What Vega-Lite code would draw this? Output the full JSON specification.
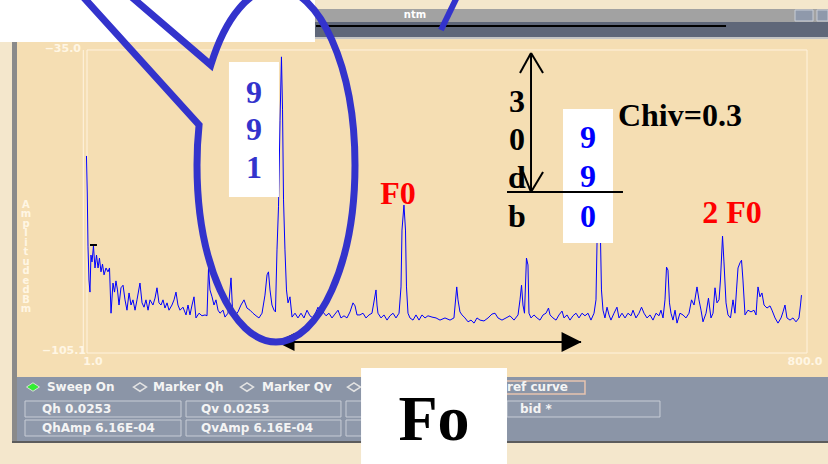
{
  "$schema": "https://vega.github.io/schema/vega-lite/v6.json",
  "width": 828,
  "height": 464,
  "padding": 0,
  "autosize": {"type": "none"},
  "background": "#f4e7cc",
  "config": {"view": {"stroke": null}},
  "resolve": {"scale": {"color": "independent"}},
  "datasets": {
    "spec": [
      {"f":1.5,"a":-59.6},{"f":2.4,"a":-68.2},{"f":3.2,"a":-80.7},{"f":4.3,"a":-88.4},{"f":5.4,"a":-91.2},{"f":6.5,"a":-82.6},{"f":7.7,"a":-84.2},{"f":9.3,"a":-80.5},{"f":11.0,"a":-85.6},{"f":12.7,"a":-82.6},{"f":14.4,"a":-85.6},{"f":16.0,"a":-83.3},{"f":17.7,"a":-86.5},{"f":19.4,"a":-84.7},{"f":21.1,"a":-87.2},{"f":23.3,"a":-85.6},{"f":25.5,"a":-86.5},{"f":27.2,"a":-85.6},{"f":28.9,"a":-96.1},{"f":31.1,"a":-89.1},{"f":32.8,"a":-91.2},{"f":34.4,"a":-88.6},{"f":36.1,"a":-90.7},{"f":37.8,"a":-94.2},{"f":40.0,"a":-90.2},{"f":42.3,"a":-89.6},{"f":44.5,"a":-93.0},{"f":46.7,"a":-95.4},{"f":49.0,"a":-91.4},{"f":51.2,"a":-94.2},{"f":53.4,"a":-93.0},{"f":55.7,"a":-95.4},{"f":57.9,"a":-93.0},{"f":61.2,"a":-89.1},{"f":63.5,"a":-93.7},{"f":65.7,"a":-94.7},{"f":67.9,"a":-93.0},{"f":70.2,"a":-95.4},{"f":72.4,"a":-93.0},{"f":75.7,"a":-94.2},{"f":78.0,"a":-92.6},{"f":80.2,"a":-90.2},{"f":82.4,"a":-93.7},{"f":84.7,"a":-94.2},{"f":86.9,"a":-93.0},{"f":89.1,"a":-94.9},{"f":91.4,"a":-93.7},{"f":93.6,"a":-95.4},{"f":96.9,"a":-94.2},{"f":99.2,"a":-93.0},{"f":101.4,"a":-91.2},{"f":103.6,"a":-94.2},{"f":105.9,"a":-95.4},{"f":109.2,"a":-94.7},{"f":112.6,"a":-96.5},{"f":114.8,"a":-94.2},{"f":117.0,"a":-96.5},{"f":119.3,"a":-94.2},{"f":121.5,"a":-92.3},{"f":123.7,"a":-97.2},{"f":127.1,"a":-96.1},{"f":130.4,"a":-96.7},{"f":133.8,"a":-96.5},{"f":136.0,"a":-96.7},{"f":137.7,"a":-85.6},{"f":139.3,"a":-90.7},{"f":141.6,"a":-92.3},{"f":143.8,"a":-94.2},{"f":146.0,"a":-93.0},{"f":148.3,"a":-95.4},{"f":150.5,"a":-96.1},{"f":153.9,"a":-95.4},{"f":156.1,"a":-97.0},{"f":159.4,"a":-96.1},{"f":162.8,"a":-87.9},{"f":164.5,"a":-95.4},{"f":167.2,"a":-96.7},{"f":170.6,"a":-95.8},{"f":173.9,"a":-94.2},{"f":177.3,"a":-93.0},{"f":180.6,"a":-94.9},{"f":184.0,"a":-95.4},{"f":187.3,"a":-96.1},{"f":190.7,"a":-96.7},{"f":194.0,"a":-97.2},{"f":197.4,"a":-96.1},{"f":200.7,"a":-91.9},{"f":203.0,"a":-87.2},{"f":204.6,"a":-86.5},{"f":206.3,"a":-90.7},{"f":208.5,"a":-94.2},{"f":210.8,"a":-95.4},{"f":212.4,"a":-95.8},{"f":214.1,"a":-81.4},{"f":215.8,"a":-71.4},{"f":217.5,"a":-51.3},{"f":219.1,"a":-36.6},{"f":220.3,"a":-48.9},{"f":221.4,"a":-69.8},{"f":223.0,"a":-81.4},{"f":224.7,"a":-90.7},{"f":226.4,"a":-93.7},{"f":228.6,"a":-92.3},{"f":230.9,"a":-97.0},{"f":234.2,"a":-96.1},{"f":237.5,"a":-97.2},{"f":240.9,"a":-96.1},{"f":244.2,"a":-97.2},{"f":247.6,"a":-95.4},{"f":250.9,"a":-96.7},{"f":254.3,"a":-97.2},{"f":257.6,"a":-95.8},{"f":259.9,"a":-94.7},{"f":262.1,"a":-96.5},{"f":265.4,"a":-95.8},{"f":268.8,"a":-96.7},{"f":272.1,"a":-96.1},{"f":275.5,"a":-97.2},{"f":278.8,"a":-96.3},{"f":282.2,"a":-95.4},{"f":285.5,"a":-97.2},{"f":288.9,"a":-96.7},{"f":292.2,"a":-97.2},{"f":295.6,"a":-95.8},{"f":298.9,"a":-93.7},{"f":301.2,"a":-94.4},{"f":303.4,"a":-96.5},{"f":306.7,"a":-96.5},{"f":310.1,"a":-96.1},{"f":313.4,"a":-97.2},{"f":316.8,"a":-96.5},{"f":320.1,"a":-96.1},{"f":324.6,"a":-90.7},{"f":325.7,"a":-94.2},{"f":326.8,"a":-96.1},{"f":330.2,"a":-97.2},{"f":333.5,"a":-96.5},{"f":336.9,"a":-97.7},{"f":340.2,"a":-96.7},{"f":343.6,"a":-96.1},{"f":346.9,"a":-97.2},{"f":350.3,"a":-96.1},{"f":352.5,"a":-90.0},{"f":353.6,"a":-76.8},{"f":355.8,"a":-71.0},{"f":357.5,"a":-76.8},{"f":358.6,"a":-90.0},{"f":360.3,"a":-96.1},{"f":362.5,"a":-97.2},{"f":365.9,"a":-97.7},{"f":369.2,"a":-96.5},{"f":372.6,"a":-97.7},{"f":375.9,"a":-96.5},{"f":379.3,"a":-97.2},{"f":382.6,"a":-96.7},{"f":387.1,"a":-97.0},{"f":391.6,"a":-97.2},{"f":396.0,"a":-97.7},{"f":401.6,"a":-97.2},{"f":407.2,"a":-97.7},{"f":411.6,"a":-97.2},{"f":414.7,"a":-90.0},{"f":416.1,"a":-93.0},{"f":418.3,"a":-95.8},{"f":420.6,"a":-96.5},{"f":423.9,"a":-97.2},{"f":427.3,"a":-98.1},{"f":430.6,"a":-97.7},{"f":434.0,"a":-98.4},{"f":437.3,"a":-97.2},{"f":440.7,"a":-97.7},{"f":445.1,"a":-97.9},{"f":449.6,"a":-97.2},{"f":454.0,"a":-96.3},{"f":457.4,"a":-96.1},{"f":460.7,"a":-97.2},{"f":465.2,"a":-97.7},{"f":469.7,"a":-97.2},{"f":474.1,"a":-96.7},{"f":478.6,"a":-97.7},{"f":483.1,"a":-96.5},{"f":485.3,"a":-93.0},{"f":487.0,"a":-89.6},{"f":488.6,"a":-94.2},{"f":490.3,"a":-96.1},{"f":492.5,"a":-83.3},{"f":494.2,"a":-84.9},{"f":495.3,"a":-96.1},{"f":497.6,"a":-97.2},{"f":500.9,"a":-96.5},{"f":504.3,"a":-97.2},{"f":507.6,"a":-97.7},{"f":511.0,"a":-96.5},{"f":514.3,"a":-96.1},{"f":517.1,"a":-94.9},{"f":518.8,"a":-96.5},{"f":522.1,"a":-97.2},{"f":525.5,"a":-97.7},{"f":528.8,"a":-96.5},{"f":532.2,"a":-95.6},{"f":534.4,"a":-97.2},{"f":537.7,"a":-96.5},{"f":541.1,"a":-97.7},{"f":544.4,"a":-96.7},{"f":547.8,"a":-96.1},{"f":551.1,"a":-97.2},{"f":554.5,"a":-96.1},{"f":557.8,"a":-96.7},{"f":561.2,"a":-96.1},{"f":564.5,"a":-97.7},{"f":567.9,"a":-96.1},{"f":570.1,"a":-93.0},{"f":571.8,"a":-73.3},{"f":574.6,"a":-73.3},{"f":576.2,"a":-90.7},{"f":577.9,"a":-95.4},{"f":580.1,"a":-97.2},{"f":582.4,"a":-94.7},{"f":584.6,"a":-96.5},{"f":586.8,"a":-97.7},{"f":590.2,"a":-96.1},{"f":593.5,"a":-94.7},{"f":595.8,"a":-97.2},{"f":599.1,"a":-96.1},{"f":602.5,"a":-97.2},{"f":605.8,"a":-96.1},{"f":609.2,"a":-96.7},{"f":611.4,"a":-95.4},{"f":614.7,"a":-97.2},{"f":618.1,"a":-96.1},{"f":620.9,"a":-94.7},{"f":623.7,"a":-96.1},{"f":627.0,"a":-97.2},{"f":630.4,"a":-96.5},{"f":633.7,"a":-97.7},{"f":637.1,"a":-96.1},{"f":640.4,"a":-96.7},{"f":642.6,"a":-95.4},{"f":644.9,"a":-97.2},{"f":647.1,"a":-93.0},{"f":648.8,"a":-85.4},{"f":650.4,"a":-86.1},{"f":652.1,"a":-93.7},{"f":653.8,"a":-96.1},{"f":656.0,"a":-97.7},{"f":658.3,"a":-95.4},{"f":660.5,"a":-98.4},{"f":663.8,"a":-96.1},{"f":667.2,"a":-96.5},{"f":670.5,"a":-97.2},{"f":673.9,"a":-96.1},{"f":676.7,"a":-93.0},{"f":679.5,"a":-94.2},{"f":682.8,"a":-90.0},{"f":685.0,"a":-93.0},{"f":687.3,"a":-95.4},{"f":689.5,"a":-98.1},{"f":692.9,"a":-96.1},{"f":695.6,"a":-92.6},{"f":698.4,"a":-97.2},{"f":700.7,"a":-96.1},{"f":702.9,"a":-90.2},{"f":705.1,"a":-93.7},{"f":707.4,"a":-93.0},{"f":709.0,"a":-88.4},{"f":711.3,"a":-78.2},{"f":712.9,"a":-84.2},{"f":715.2,"a":-93.7},{"f":717.4,"a":-96.5},{"f":720.2,"a":-97.2},{"f":723.0,"a":-93.0},{"f":725.2,"a":-96.1},{"f":726.9,"a":-90.7},{"f":728.6,"a":-85.6},{"f":730.8,"a":-84.4},{"f":732.5,"a":-83.8},{"f":734.1,"a":-88.4},{"f":736.4,"a":-96.5},{"f":739.7,"a":-95.4},{"f":743.1,"a":-95.8},{"f":746.4,"a":-95.4},{"f":748.7,"a":-96.5},{"f":749.8,"a":-93.0},{"f":750.9,"a":-90.0},{"f":753.1,"a":-92.3},{"f":755.3,"a":-91.4},{"f":757.6,"a":-94.2},{"f":760.9,"a":-94.9},{"f":764.3,"a":-94.4},{"f":766.5,"a":-95.4},{"f":769.9,"a":-97.2},{"f":773.2,"a":-98.4},{"f":776.6,"a":-97.2},{"f":778.8,"a":-95.8},{"f":781.0,"a":-94.2},{"f":783.2,"a":-97.2},{"f":786.6,"a":-97.7},{"f":789.9,"a":-97.2},{"f":793.3,"a":-98.1},{"f":796.6,"a":-97.2},{"f":798.3,"a":-94.2},{"f":799.4,"a":-91.9}
    ],
    "fills": [
      {"part":"title","f1":-81.6,"f2":829,"a1":-25.49,"a2":-28.51},
      {"part":"band","f1":-81.6,"f2":829,"a1":-28.51,"a2":-31.99},
      {"part":"sep","f1":-81.6,"f2":829,"a1":-31.99,"a2":-32.52},
      {"part":"plot","f1":-76.03,"f2":829,"a1":-32.52,"a2":-110.91},
      {"part":"border","f1":-81.61,"f2":-76.03,"a1":-28.51,"a2":-126.0},
      {"part":"toolbar","f1":-76.03,"f2":829,"a1":-110.91,"a2":-125.76},
      {"part":"edge","f1":-81.61,"f2":829,"a1":-125.76,"a2":-126.23}
    ],
    "buttons": [
      {"f1":-67.1,"f2":107.0,"a1":-116.48,"a2":-120.19},
      {"f1":112.6,"f2":285.5,"a1":-116.48,"a2":-120.19},
      {"f1":291.1,"f2":465.2,"a1":-116.48,"a2":-120.19},
      {"f1":470.8,"f2":641.5,"a1":-116.48,"a2":-120.19},
      {"f1":-67.1,"f2":107.0,"a1":-120.89,"a2":-124.6},
      {"f1":112.6,"f2":285.5,"a1":-120.89,"a2":-124.6},
      {"f1":291.1,"f2":465.2,"a1":-120.89,"a2":-124.6},
      {"f1":792.2,"f2":812.3,"a1":-25.72,"a2":-28.27},
      {"f1":816.7,"f2":829,"a1":-25.72,"a2":-28.27}
    ],
    "refbox": [{"f1":458.5,"f2":557.8,"a1":-111.84,"a2":-114.85}],
    "frame": [{"f1":2.09,"f2":805.6,"a1":-35.0,"a2":-105.34}],
    "lightRules": [{"f1":-2.04,"a1":-35.0,"f2":-2.04,"a2":-105.34}],
    "whites": [
      {"f1":-95,"f2":256.5,"a1":-23.4,"a2":-33.15},
      {"f1":160.5,"f2":216.3,"a1":-37.79,"a2":-69.13},
      {"f1":533.3,"f2":589.1,"a1":-48.70,"a2":-79.80},
      {"f1":307.9,"f2":470.8,"a1":-108.82,"a2":-131.1}
    ],
    "blackRules": [
      {"f1":497.6,"a1":-35.70,"f2":497.6,"a2":-67.97},
      {"f1":485.3,"a1":-40.34,"f2":497.6,"a2":-35.70},
      {"f1":511.0,"a1":-40.34,"f2":497.6,"a2":-35.70},
      {"f1":488.6,"a1":-63.32,"f2":497.6,"a2":-67.97},
      {"f1":511.0,"a1":-63.32,"f2":497.6,"a2":-67.97},
      {"f1":470.8,"a1":-67.97,"f2":600.2,"a2":-67.97},
      {"f1":215.2,"a1":-102.78,"f2":553.4,"a2":-102.78},
      {"f1":5.4,"a1":-80.27,"f2":13.2,"a2":-80.27},
      {"f1":257.6,"a1":-29.43,"f2":715.2,"a2":-29.43}
    ],
    "blueRules": [{"f1":415.0,"a1":-22.7,"f2":397.1,"a2":-30.36}],
    "arrowR": [{"f":542.8,"a":-102.78}],
    "arrowL": [{"f":223.6,"a":-102.78}],
    "callout": [{"f":213.0,"a":-61.70}],
    "anno": [
      {"f":188.4,"a":-44.99,"t":"9","g":"b1"},
      {"f":188.4,"a":-53.57,"t":"9","g":"b1"},
      {"f":188.4,"a":-62.39,"t":"1","g":"b1"},
      {"f":481.9,"a":-47.08,"t":"3","g":"k"},
      {"f":481.9,"a":-55.90,"t":"0","g":"k"},
      {"f":481.9,"a":-64.72,"t":"d","g":"k"},
      {"f":481.9,"a":-73.77,"t":"b","g":"k"},
      {"f":561.2,"a":-55.43,"t":"9","g":"b2"},
      {"f":561.2,"a":-64.48,"t":"9","g":"b2"},
      {"f":561.2,"a":-73.77,"t":"0","g":"b2"},
      {"f":349.1,"a":-68.43,"t":"F0","g":"r"},
      {"f":721.9,"a":-72.84,"t":"2 F0","g":"r"}
    ],
    "chiv": [{"f":594.6,"a":-50.33,"t":"Chiv=0.3"}],
    "fo": [{"f":389.3,"a":-125.5,"t":"Fo"}],
    "title": [{"f":368.1,"a":-26.88,"t":"ntm"}],
    "tb": [
      {"f":-42.6,"a":-113.23,"t":"Sweep On"},
      {"f":75.7,"a":-113.23,"t":"Marker Qh"},
      {"f":197.4,"a":-113.23,"t":"Marker Qv"},
      {"f":470.8,"a":-113.23,"t":"ref curve"},
      {"f":-48.1,"a":-118.33,"t":"Qh 0.0253"},
      {"f":129.3,"a":-118.33,"t":"Qv 0.0253"},
      {"f":485.3,"a":-118.33,"t":"bid *"},
      {"f":-48.1,"a":-122.75,"t":"QhAmp 6.16E-04"},
      {"f":129.3,"a":-122.75,"t":"QvAmp 6.16E-04"}
    ],
    "diamondOn": [{"f":-58.2,"a":-113.23}],
    "diamondOff": [{"f":61.2,"a":-113.23},{"f":180.6,"a":-113.23},{"f":300.0,"a":-113.23}],
    "ylabels": [{"f":-4.6,"a":-34.77,"t":"−35.0"},{"f":1.0,"a":-104.87,"t":"−105.1"}],
    "xlabels": [{"f":8.8,"a":-107.5,"t":"1.0"},{"f":803.3,"a":-107.5,"t":"800.0"}],
    "ytitle": [{"f":-66.0,"a":-70.98,"t":"A\nm\np\nl\ni\nt\nu\nd\ne\n \nd\nB\nm"}]
  },
  "layer": [
    {
      "data": {"name": "fills"},
      "mark": {"type": "rect"},
      "encoding": {
        "x": {"field": "f1", "type": "quantitative", "scale": {"domain": [-95, 829], "nice": false, "zero": false}, "axis": null},
        "x2": {"field": "f2"},
        "y": {"field": "a1", "type": "quantitative", "scale": {"domain": [-131.1, -23.4], "nice": false, "zero": false}, "axis": null},
        "y2": {"field": "a2"},
        "color": {"field": "part", "type": "nominal", "legend": null, "scale": {"domain": ["title", "band", "sep", "plot", "border", "toolbar", "edge"], "range": ["#a2a2a2", "#5f6779", "#c4c4c4", "#f5deb3", "#8a8a8a", "#8b95a7", "#5c5c5c"]}}
      }
    },
    {
      "data": {"name": "buttons"},
      "mark": {"type": "rect", "fill": "#8f99ab", "stroke": "#c8cdd6", "strokeWidth": 1},
      "encoding": {
        "x": {"field": "f1", "type": "quantitative", "scale": {"domain": [-95, 829], "nice": false, "zero": false}, "axis": null},
        "x2": {"field": "f2"},
        "y": {"field": "a1", "type": "quantitative", "scale": {"domain": [-131.1, -23.4], "nice": false, "zero": false}, "axis": null},
        "y2": {"field": "a2"}
      }
    },
    {
      "data": {"name": "refbox"},
      "mark": {"type": "rect", "fillOpacity": 0, "stroke": "#e8c4b0", "strokeWidth": 1.5},
      "encoding": {
        "x": {"field": "f1", "type": "quantitative", "scale": {"domain": [-95, 829], "nice": false, "zero": false}, "axis": null},
        "x2": {"field": "f2"},
        "y": {"field": "a1", "type": "quantitative", "scale": {"domain": [-131.1, -23.4], "nice": false, "zero": false}, "axis": null},
        "y2": {"field": "a2"}
      }
    },
    {
      "data": {"name": "frame"},
      "mark": {"type": "rect", "fillOpacity": 0, "stroke": "#fff3df", "strokeWidth": 1},
      "encoding": {
        "x": {"field": "f1", "type": "quantitative", "scale": {"domain": [-95, 829], "nice": false, "zero": false}, "axis": null},
        "x2": {"field": "f2"},
        "y": {"field": "a1", "type": "quantitative", "scale": {"domain": [-131.1, -23.4], "nice": false, "zero": false}, "axis": null},
        "y2": {"field": "a2"}
      }
    },
    {
      "data": {"name": "lightRules"},
      "mark": {"type": "rule", "color": "#fff3df", "strokeWidth": 1},
      "encoding": {
        "x": {"field": "f1", "type": "quantitative", "scale": {"domain": [-95, 829], "nice": false, "zero": false}, "axis": null},
        "x2": {"field": "f2"},
        "y": {"field": "a1", "type": "quantitative", "scale": {"domain": [-131.1, -23.4], "nice": false, "zero": false}, "axis": null},
        "y2": {"field": "a2"}
      }
    },
    {
      "data": {"name": "title"},
      "mark": {"type": "text", "color": "#ffffff", "font": "DejaVu Sans", "fontWeight": "bold", "fontSize": 10},
      "encoding": {
        "x": {"field": "f", "type": "quantitative", "scale": {"domain": [-95, 829], "nice": false, "zero": false}, "axis": null},
        "y": {"field": "a", "type": "quantitative", "scale": {"domain": [-131.1, -23.4], "nice": false, "zero": false}, "axis": null},
        "text": {"field": "t"}
      }
    },
    {
      "data": {"name": "tb"},
      "mark": {"type": "text", "align": "left", "color": "#f4f4f4", "font": "DejaVu Sans", "fontWeight": "bold", "fontSize": 12},
      "encoding": {
        "x": {"field": "f", "type": "quantitative", "scale": {"domain": [-95, 829], "nice": false, "zero": false}, "axis": null},
        "y": {"field": "a", "type": "quantitative", "scale": {"domain": [-131.1, -23.4], "nice": false, "zero": false}, "axis": null},
        "text": {"field": "t"}
      }
    },
    {
      "data": {"name": "diamondOn"},
      "mark": {"type": "point", "shape": "M-1,0 L0,-0.65 L1,0 L0,0.65 Z", "size": 169, "filled": true, "color": "#33ee33", "stroke": "#dcdcdc", "strokeWidth": 1, "opacity": 1},
      "encoding": {
        "x": {"field": "f", "type": "quantitative", "scale": {"domain": [-95, 829], "nice": false, "zero": false}, "axis": null},
        "y": {"field": "a", "type": "quantitative", "scale": {"domain": [-131.1, -23.4], "nice": false, "zero": false}, "axis": null}
      }
    },
    {
      "data": {"name": "diamondOff"},
      "mark": {"type": "point", "shape": "M-1,0 L0,-0.65 L1,0 L0,0.65 Z", "size": 169, "filled": false, "color": "#e2e2e2", "strokeWidth": 1.5, "opacity": 1},
      "encoding": {
        "x": {"field": "f", "type": "quantitative", "scale": {"domain": [-95, 829], "nice": false, "zero": false}, "axis": null},
        "y": {"field": "a", "type": "quantitative", "scale": {"domain": [-131.1, -23.4], "nice": false, "zero": false}, "axis": null}
      }
    },
    {
      "data": {"name": "ylabels"},
      "mark": {"type": "text", "align": "right", "color": "#fff6e4", "font": "DejaVu Sans", "fontWeight": "bold", "fontSize": 11},
      "encoding": {
        "x": {"field": "f", "type": "quantitative", "scale": {"domain": [-95, 829], "nice": false, "zero": false}, "axis": null},
        "y": {"field": "a", "type": "quantitative", "scale": {"domain": [-131.1, -23.4], "nice": false, "zero": false}, "axis": null},
        "text": {"field": "t"}
      }
    },
    {
      "data": {"name": "xlabels"},
      "mark": {"type": "text", "align": "center", "color": "#fff6e4", "font": "DejaVu Sans", "fontWeight": "bold", "fontSize": 11},
      "encoding": {
        "x": {"field": "f", "type": "quantitative", "scale": {"domain": [-95, 829], "nice": false, "zero": false}, "axis": null},
        "y": {"field": "a", "type": "quantitative", "scale": {"domain": [-131.1, -23.4], "nice": false, "zero": false}, "axis": null},
        "text": {"field": "t"}
      }
    },
    {
      "data": {"name": "ytitle"},
      "mark": {"type": "text", "align": "center", "baseline": "middle", "lineBreak": "\n", "lineHeight": 9.5, "color": "#fff6e4", "font": "DejaVu Sans", "fontWeight": "bold", "fontSize": 10},
      "encoding": {
        "x": {"field": "f", "type": "quantitative", "scale": {"domain": [-95, 829], "nice": false, "zero": false}, "axis": null},
        "y": {"field": "a", "type": "quantitative", "scale": {"domain": [-131.1, -23.4], "nice": false, "zero": false}, "axis": null},
        "text": {"field": "t"}
      }
    },
    {
      "data": {"name": "spec"},
      "mark": {"type": "line", "color": "#0000ff", "strokeWidth": 1},
      "encoding": {
        "x": {"field": "f", "type": "quantitative", "scale": {"domain": [-95, 829], "nice": false, "zero": false}, "axis": null},
        "y": {"field": "a", "type": "quantitative", "scale": {"domain": [-131.1, -23.4], "nice": false, "zero": false}, "axis": null}
      }
    },
    {
      "data": {"name": "whites"},
      "mark": {"type": "rect", "fill": "#ffffff"},
      "encoding": {
        "x": {"field": "f1", "type": "quantitative", "scale": {"domain": [-95, 829], "nice": false, "zero": false}, "axis": null},
        "x2": {"field": "f2"},
        "y": {"field": "a1", "type": "quantitative", "scale": {"domain": [-131.1, -23.4], "nice": false, "zero": false}, "axis": null},
        "y2": {"field": "a2"}
      }
    },
    {
      "data": {"name": "anno"},
      "mark": {"type": "text", "font": "Liberation Serif", "fontWeight": "bold", "fontSize": 32},
      "encoding": {
        "x": {"field": "f", "type": "quantitative", "scale": {"domain": [-95, 829], "nice": false, "zero": false}, "axis": null},
        "y": {"field": "a", "type": "quantitative", "scale": {"domain": [-131.1, -23.4], "nice": false, "zero": false}, "axis": null},
        "text": {"field": "t"},
        "color": {"field": "g", "type": "nominal", "legend": null, "scale": {"domain": ["b1", "k", "b2", "r"], "range": ["#3333cc", "#000000", "#0000ff", "#ff0000"]}}
      }
    },
    {
      "data": {"name": "chiv"},
      "mark": {"type": "text", "align": "left", "color": "#000000", "font": "Liberation Serif", "fontWeight": "bold", "fontSize": 32},
      "encoding": {
        "x": {"field": "f", "type": "quantitative", "scale": {"domain": [-95, 829], "nice": false, "zero": false}, "axis": null},
        "y": {"field": "a", "type": "quantitative", "scale": {"domain": [-131.1, -23.4], "nice": false, "zero": false}, "axis": null},
        "text": {"field": "t"}
      }
    },
    {
      "data": {"name": "blackRules"},
      "mark": {"type": "rule", "color": "#000000", "strokeWidth": 2},
      "encoding": {
        "x": {"field": "f1", "type": "quantitative", "scale": {"domain": [-95, 829], "nice": false, "zero": false}, "axis": null},
        "x2": {"field": "f2"},
        "y": {"field": "a1", "type": "quantitative", "scale": {"domain": [-131.1, -23.4], "nice": false, "zero": false}, "axis": null},
        "y2": {"field": "a2"}
      }
    },
    {
      "data": {"name": "arrowR"},
      "mark": {"type": "point", "shape": "M1,0 L-1,-1 L-1,1 Z", "size": 400, "filled": true, "color": "#000000", "opacity": 1},
      "encoding": {
        "x": {"field": "f", "type": "quantitative", "scale": {"domain": [-95, 829], "nice": false, "zero": false}, "axis": null},
        "y": {"field": "a", "type": "quantitative", "scale": {"domain": [-131.1, -23.4], "nice": false, "zero": false}, "axis": null}
      }
    },
    {
      "data": {"name": "arrowL"},
      "mark": {"type": "point", "shape": "M-1,0 L1,-1 L1,1 Z", "size": 324, "filled": true, "color": "#000000", "opacity": 1},
      "encoding": {
        "x": {"field": "f", "type": "quantitative", "scale": {"domain": [-95, 829], "nice": false, "zero": false}, "axis": null},
        "y": {"field": "a", "type": "quantitative", "scale": {"domain": [-131.1, -23.4], "nice": false, "zero": false}, "axis": null}
      }
    },
    {
      "data": {"name": "fo"},
      "mark": {"type": "text", "baseline": "alphabetic", "color": "#000000", "font": "Liberation Serif", "fontWeight": "bold", "fontSize": 64},
      "encoding": {
        "x": {"field": "f", "type": "quantitative", "scale": {"domain": [-95, 829], "nice": false, "zero": false}, "axis": null},
        "y": {"field": "a", "type": "quantitative", "scale": {"domain": [-131.1, -23.4], "nice": false, "zero": false}, "axis": null},
        "text": {"field": "t"}
      }
    },
    {
      "data": {"name": "callout"},
      "mark": {"type": "point", "shape": "M-2.04,-2 L-0.4347,-0.226 C-0.4424,-0.1519 -0.4463,-0.0761 -0.4463,0 C-0.4463,0.5523 -0.2465,1 0,1 C0.2465,1 0.4463,0.5523 0.4463,0 C0.4463,-0.5523 0.2465,-1 0,-1 C-0.1473,-1 -0.285,-0.8373 -0.3682,-0.565 L-2.04,-2", "size": 125316, "filled": false, "color": "#3333cc", "strokeWidth": 7, "strokeJoin": "miter", "opacity": 1},
      "encoding": {
        "x": {"field": "f", "type": "quantitative", "scale": {"domain": [-95, 829], "nice": false, "zero": false}, "axis": null},
        "y": {"field": "a", "type": "quantitative", "scale": {"domain": [-131.1, -23.4], "nice": false, "zero": false}, "axis": null}
      }
    },
    {
      "data": {"name": "blueRules"},
      "mark": {"type": "rule", "color": "#3333cc", "strokeWidth": 6},
      "encoding": {
        "x": {"field": "f1", "type": "quantitative", "scale": {"domain": [-95, 829], "nice": false, "zero": false}, "axis": null},
        "x2": {"field": "f2"},
        "y": {"field": "a1", "type": "quantitative", "scale": {"domain": [-131.1, -23.4], "nice": false, "zero": false}, "axis": null},
        "y2": {"field": "a2"}
      }
    }
  ]
}
